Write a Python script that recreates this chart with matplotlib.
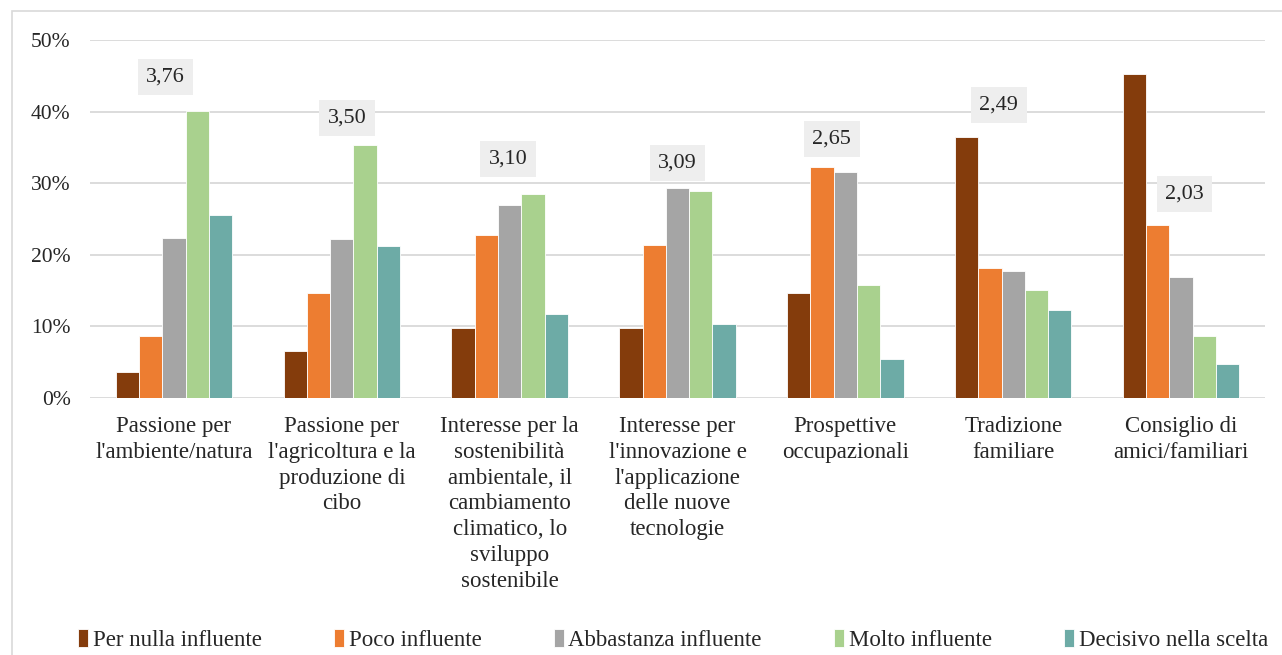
import matplotlib
matplotlib.use("Agg")
import matplotlib.pyplot as plt
import numpy as np
from matplotlib.patches import Rectangle

plt.rcParams["font.family"] = ["Liberation Serif", "DejaVu Serif"]

CATEGORIES = [
    "Passione per\nl'ambiente/natura",
    "Passione per\nl'agricoltura e la\nproduzione di\ncibo",
    "Interesse per la\nsostenibilità\nambientale, il\ncambiamento\nclimatico, lo\nsviluppo\nsostenibile",
    "Interesse per\nl'innovazione e\nl'applicazione\ndelle nuove\ntecnologie",
    "Prospettive\noccupazionali",
    "Tradizione\nfamiliare",
    "Consiglio di\namici/familiari",
]

SERIES_NAMES = [
    "Per nulla influente",
    "Poco influente",
    "Abbastanza influente",
    "Molto influente",
    "Decisivo nella scelta",
]

PER_NULLA = [3.6, 6.6, 9.8, 9.8, 14.6, 36.4, 45.3]
POCO = [8.6, 14.7, 22.7, 21.4, 32.2, 18.1, 24.1]
ABBASTANZA = [22.3, 22.2, 26.9, 29.3, 31.5, 17.8, 16.9]
MOLTO = [40.1, 35.3, 28.5, 28.9, 15.8, 15.1, 8.7]
DECISIVO = [25.5, 21.2, 11.8, 10.3, 5.4, 12.3, 4.7]

MEAN_SCORES = ["3,76", "3,50", "3,10", "3,09", "2,65", "2,49", "2,03"]
# where the mean-score boxes sit (x shift from group centre, y in %)
LABEL_DX = [-0.05, 0.03, -0.01, 0.0, -0.08, -0.086, 0.02]
LABEL_Y = [44.8, 39.1, 33.4, 32.8, 36.2, 40.9, 28.5]

COLORS = ["#843C0C", "#ED7D31", "#A5A5A5", "#A9D18E", "#6DABA6"]
TEXT_COLOR = "#262626"
GRID_COLOR = "#D9D9D9"

fig = plt.figure(figsize=(12.82, 6.55), dpi=100)
ax = fig.add_axes([90 / 1282, 1 - 398 / 655, 1175 / 1282, 358 / 655])

# outer chart border (cropped on right and bottom)
fig.patches.append(Rectangle((12 / 1282, -0.05), 1.2, 1 - 11 / 655 + 0.05,
                             transform=fig.transFigure, fill=False,
                             edgecolor=GRID_COLOR, linewidth=1.2))

values = [PER_NULLA, POCO, ABBASTANZA, MOLTO, DECISIVO]
x = np.arange(len(CATEGORIES))
width = 0.1386
for i, (vals, name, color) in enumerate(zip(values, SERIES_NAMES, COLORS)):
    ax.bar(x + (i - 2) * width, vals, width, color=color, edgecolor="white",
           linewidth=0.6, label=name, zorder=3)

for xi, dx, y, txt in zip(x, LABEL_DX, LABEL_Y, MEAN_SCORES):
    ax.text(xi + dx, y, txt, ha="center", va="center", fontsize=16, color=TEXT_COLOR,
            zorder=4, bbox=dict(boxstyle="square,pad=0.38", facecolor="#EEEEEE", edgecolor="none"))

ax.set_xlim(-0.5, len(CATEGORIES) - 0.5)
ax.set_ylim(0, 50)
ax.set_yticks([0, 10, 20, 30, 40, 50])
ax.set_yticklabels([f"{v}%" for v in range(0, 51, 10)])
ax.set_xticks(x)
ax.set_xticklabels(CATEGORIES, fontsize=16.5, color=TEXT_COLOR, linespacing=1.3)
ax.tick_params(axis="y", labelsize=15.5, labelcolor=TEXT_COLOR, length=0, pad=14)
ax.tick_params(axis="x", length=0, pad=13)
ax.grid(True, axis="y", color=GRID_COLOR, linewidth=1.3, zorder=0)
for spine in ax.spines.values():
    spine.set_visible(False)

fig.legend(loc="center", bbox_to_anchor=(0.525, 0.023), ncol=5, frameon=False,
           fontsize=16.5, handlelength=0.45, handleheight=0.8, handletextpad=0.2,
           columnspacing=3.15, labelcolor=TEXT_COLOR)

fig.savefig("out.png", dpi=100)
